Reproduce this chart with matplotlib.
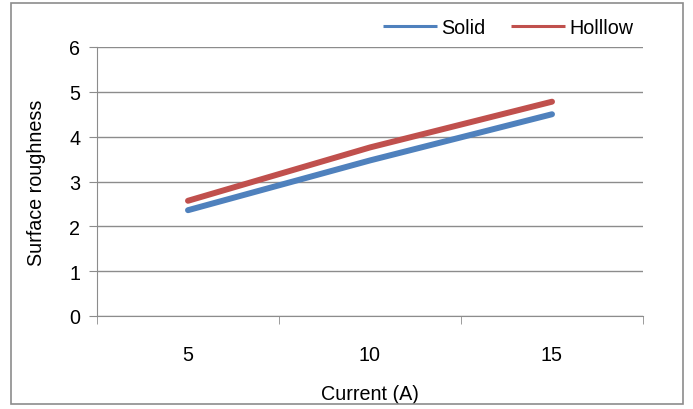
import matplotlib
matplotlib.use("Agg")
import matplotlib.pyplot as plt
from matplotlib.patches import Rectangle

plt.rcParams['font.family'] = ['Liberation Sans', 'DejaVu Sans']

currents = [5, 10, 15]
solid = [2.36, 3.47, 4.50]
hollow = [2.57, 3.76, 4.78]
yticks = [0, 1, 2, 3, 4, 5, 6]

fig = plt.figure(figsize=(6.93, 4.10), dpi=100)
ax = fig.add_axes([97/693, 1-317/410, (643-97)/693, (317-48)/410])

grid_c = '#8c8c8c'
fs = 14.2
ax.plot(currents, solid, color='#4F81BD', lw=4.3, solid_capstyle='round', label='Solid', zorder=3)
ax.plot(currents, hollow, color='#C0504D', lw=4.3, solid_capstyle='round', label='Holllow', zorder=3)

ax.set_xlim(2.5, 17.5)
ax.set_ylim(0, 6)
ax.set_yticks(yticks)
ax.set_xticks(currents)
ax.set_xticks([2.5, 7.5, 12.5, 17.5], minor=True)
ax.tick_params(axis='x', which='major', length=0, labelsize=fs, pad=21)
ax.tick_params(axis='x', which='minor', length=6, color=grid_c, direction='out')
ax.tick_params(axis='y', length=6, color=grid_c, labelsize=fs, pad=6)
ax.yaxis.grid(True, color=grid_c, lw=1)
ax.set_axisbelow(True)
for s in ['top', 'right']:
    ax.spines[s].set_visible(False)
for s in ['left', 'bottom']:
    ax.spines[s].set_color(grid_c)
ax.set_xlabel('Current (A)', fontsize=fs, labelpad=14)
ax.set_ylabel('Surface roughness', fontsize=fs, labelpad=17)

leg = ax.legend(loc='lower right', bbox_to_anchor=(1.0, 1.0), ncol=2, frameon=False,
                fontsize=fs, handlelength=2.75, handletextpad=0.2, columnspacing=1.3,
                borderaxespad=0.1)
for l in leg.get_lines():
    l.set_linewidth(2.2)
    l.set_solid_capstyle('butt')

fig.patches.append(Rectangle((11/693, 1-405/410), (683-11)/693, (405-4)/410,
                             transform=fig.transFigure, fill=False,
                             edgecolor='#8c8c8c', lw=1.2))

fig.savefig('out.png', dpi=100)
